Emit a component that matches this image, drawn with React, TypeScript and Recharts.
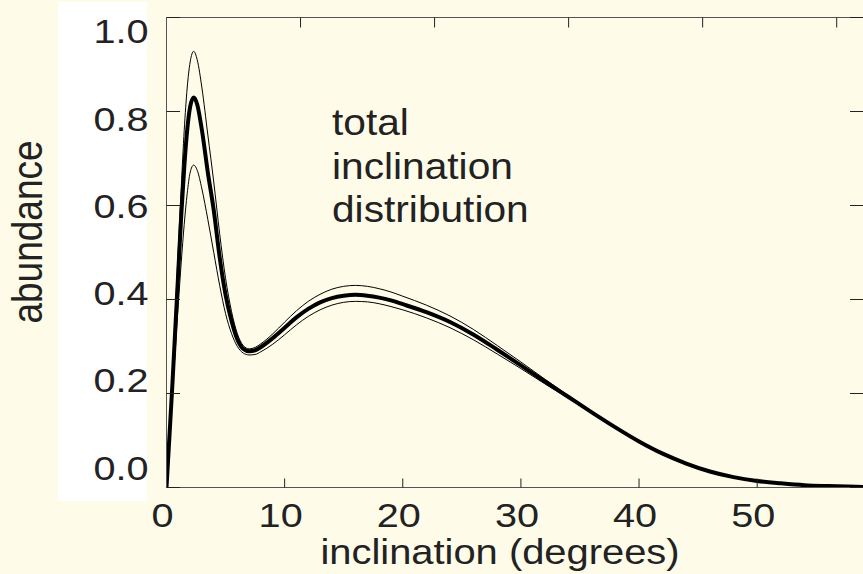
import React from "react";
import { LineChart, Line, XAxis, YAxis } from "recharts";

// inclination (degrees)
const xs = [0, 0.25, 0.5, 0.75, 1, 1.25, 1.5, 1.75, 2, 2.3, 2.6, 3, 3.5, 4, 4.5, 5, 5.5, 6, 6.5, 7, 7.5, 8, 9, 10, 11, 12, 13, 14, 15, 16, 17, 18, 19, 20, 22, 24, 26, 28, 30, 32, 34, 36, 38, 40, 42, 44, 46, 48, 50, 52, 54, 56, 59];
// total inclination distribution (thick)
const midVals = [0, 0.11, 0.22, 0.34, 0.46, 0.58, 0.68, 0.76, 0.81, 0.83, 0.815, 0.76, 0.67, 0.59, 0.49, 0.41, 0.355, 0.315, 0.295, 0.29, 0.292, 0.299, 0.318, 0.34, 0.362, 0.38, 0.394, 0.403, 0.408, 0.41, 0.408, 0.404, 0.398, 0.39, 0.373, 0.352, 0.325, 0.293, 0.26, 0.226, 0.193, 0.16, 0.128, 0.098, 0.072, 0.051, 0.034, 0.022, 0.014, 0.009, 0.005, 0.003, 0.001];
// upper envelope (thin)
const upperVals = [0, 0.12, 0.245, 0.375, 0.51, 0.64, 0.76, 0.85, 0.905, 0.928, 0.91, 0.85, 0.75, 0.65, 0.54, 0.445, 0.375, 0.327, 0.302, 0.295, 0.298, 0.306, 0.327, 0.352, 0.376, 0.396, 0.411, 0.422, 0.428, 0.43, 0.428, 0.423, 0.416, 0.407, 0.388, 0.365, 0.336, 0.302, 0.267, 0.231, 0.196, 0.162, 0.129, 0.099, 0.073, 0.052, 0.035, 0.022, 0.014, 0.009, 0.005, 0.003, 0.001];
// lower envelope (thin)
const lowerVals = [0, 0.095, 0.195, 0.295, 0.39, 0.48, 0.56, 0.625, 0.67, 0.686, 0.675, 0.635, 0.57, 0.5, 0.43, 0.37, 0.328, 0.3, 0.286, 0.282, 0.283, 0.289, 0.305, 0.325, 0.346, 0.364, 0.378, 0.388, 0.394, 0.396, 0.395, 0.391, 0.385, 0.378, 0.361, 0.34, 0.314, 0.284, 0.253, 0.221, 0.19, 0.158, 0.127, 0.097, 0.071, 0.05, 0.033, 0.021, 0.013, 0.009, 0.005, 0.003, 0.001];

const xTickValues = [0, 10, 20, 30, 40, 50];
const xInnerTicks = [10, 20, 30, 40, 50];
const yTickValues = [0, 0.2, 0.4, 0.6, 0.8, 1.0];
const xDomain = [0, 59];
const yDomain = [0, 1];
const yLabelDomain = [-0.04587, 1.03211];

const xTitle = "inclination (degrees)";
const yTitle = "abundance";
const noteLines = ["total", "inclination", "distribution"];

const data = xs.map((x, i) => ({ x, mid: midVals[i], upper: upperVals[i], lower: lowerVals[i] }));

const BG = "#FEFBE9";
const FONT = "'Liberation Sans', Arial, Helvetica, sans-serif";
const TXT = "#222";
const AX = "#555";
const TK = "#222";

const XTick = (props: any) => {
  const { x, y, payload, shift } = props;
  return (
    <text transform={`translate(${x - 4},${y + shift}) scale(1.2,1)`} textAnchor="middle" fontSize={33} fontFamily={FONT} fill={TXT}>
      {payload.value}
    </text>
  );
};

const YTick = (props: any) => {
  const { x, y, payload } = props;
  return (
    <text transform={`translate(${x},${y + 12}) scale(1.2,1)`} textAnchor="end" fontSize={33} fontFamily={FONT} fill={TXT}>
      {Number(payload.value).toFixed(1)}
    </text>
  );
};

const NoTick = () => <g />;

export default function App() {
  return (
    <div style={{ position: "fixed", left: 0, top: 0, width: 863, height: 574, overflow: "hidden", background: BG }}>
      <div style={{ position: "absolute", left: 58, top: 2, width: 89, height: 499, background: "#ffffff" }} />
      <div style={{ position: "absolute", left: 0, top: 0 }}>
        <LineChart width={864} height={574} data={data} margin={{ top: 17.5, right: 0.5, bottom: 86.5, left: 165.5 }}>
          <XAxis
            xAxisId="x"
            dataKey="x"
            type="number"
            domain={xDomain}
            allowDataOverflow
            ticks={xTickValues}
            mirror
            height={10}
            tickSize={9}
            tickMargin={0}
            stroke={AX}
            axisLine={{ stroke: AX }}
            tickLine={{ stroke: TK, strokeWidth: 1 }}
            tick={<XTick shift={48.5} />}
            interval={0}
          />
          <XAxis
            xAxisId="top"
            orientation="top"
            type="number"
            domain={xDomain}
            allowDataOverflow
            ticks={xInnerTicks}
            mirror
            height={10}
            tickSize={10}
            stroke={AX}
            axisLine={{ stroke: AX }}
            tickLine={{ stroke: TK, strokeWidth: 1 }}
            tick={<NoTick />}
            interval={0}
          />
          <YAxis
            yAxisId="y"
            type="number"
            domain={yDomain}
            allowDataOverflow
            ticks={yTickValues}
            mirror
            width={14}
            tickSize={13.5}
            stroke={AX}
            axisLine={{ stroke: AX }}
            tickLine={{ stroke: TK, strokeWidth: 1 }}
            tick={<NoTick />}
            interval={0}
          />
          <YAxis
            yAxisId="lab"
            type="number"
            domain={yLabelDomain}
            allowDataOverflow
            ticks={yTickValues}
            width={1}
            tickSize={0}
            tickMargin={18}
            axisLine={false}
            tickLine={false}
            tick={<YTick />}
            interval={0}
          />
          <YAxis
            yAxisId="r"
            orientation="right"
            type="number"
            domain={yDomain}
            allowDataOverflow
            ticks={yTickValues}
            mirror
            width={14}
            tickSize={13.5}
            stroke={AX}
            axisLine={{ stroke: AX }}
            tickLine={{ stroke: TK, strokeWidth: 1 }}
            tick={<NoTick />}
            interval={0}
          />
          <Line xAxisId="x" yAxisId="y" type="monotone" dataKey="upper" stroke="#000" strokeWidth={1} dot={false} isAnimationActive={false} />
          <Line xAxisId="x" yAxisId="y" type="monotone" dataKey="lower" stroke="#000" strokeWidth={1} dot={false} isAnimationActive={false} />
          <Line xAxisId="x" yAxisId="y" type="monotone" dataKey="mid" stroke="#000" strokeWidth={4} dot={false} isAnimationActive={false} />
        </LineChart>
      </div>
      <svg width={863} height={574} style={{ position: "absolute", left: 0, top: 0, pointerEvents: "none" }}>
        <text transform="translate(41.5,232) scale(1.14,1) rotate(-90)" textAnchor="middle" fontSize={37} fontFamily={FONT} fill={TXT}>
          {yTitle}
        </text>
        <text transform="translate(500,564) scale(1.14,1)" textAnchor="middle" fontSize={35} fontFamily={FONT} fill={TXT}>
          {xTitle}
        </text>
        {noteLines.map((t, i) => (
          <text key={t} transform={`translate(332,${135 + i * 43.5}) scale(1.13,1)`} fontSize={36} fontFamily={FONT} fill={TXT}>
            {t}
          </text>
        ))}
      </svg>
    </div>
  );
}
